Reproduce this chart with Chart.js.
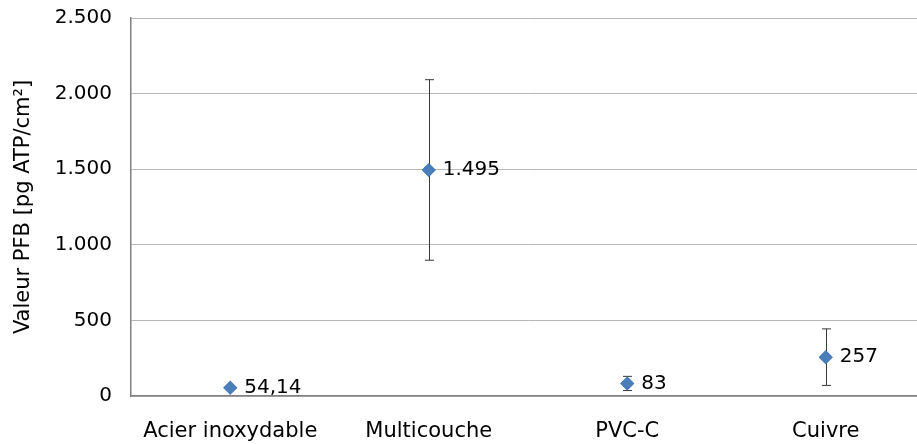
<!DOCTYPE html>
<html><head><meta charset="utf-8">
<script src="https://cdn.jsdelivr.net/npm/chart.js@4"></script>
<style>html,body{margin:0;padding:0;overflow:hidden;background:#fff}#wrap{width:932px;height:444px;position:relative}</style>
</head><body><div id="wrap"><canvas id="c"></canvas></div>
<script>
const categories = ['Acier inoxydable', 'Multicouche', 'PVC-C', 'Cuivre'];
const values = [54.14, 1495, 83, 257];
const errors = [0, 597, 47, 187];
const valueLabels = ['54,14', '1.495', '83', '257'];
const yTickValues = [0, 500, 1000, 1500, 2000, 2500];
const yTitle = 'Valeur PFB [pg ATP/cm²]';

const FONT = 'DejaVu Sans';
function fmt(v) { return String(v).replace(/\B(?=(\d{3})+(?!\d))/g, '.'); }

const errorBars = {
  id: 'errorBars',
  afterDatasetsDraw(chart) {
    const ctx = chart.ctx, meta = chart.getDatasetMeta(0), ys = chart.scales.y;
    ctx.save();
    ctx.strokeStyle = '#3a3a3a';
    ctx.lineWidth = 1;
    meta.data.forEach((pt, i) => {
      if (!errors[i]) return;
      const x = Math.round(pt.x) + 0.5;
      const yt = ys.getPixelForValue(values[i] + errors[i]);
      const yb = ys.getPixelForValue(values[i] - errors[i]);
      ctx.beginPath();
      ctx.moveTo(x, yt); ctx.lineTo(x, yb);
      ctx.moveTo(x - 4.5, yt); ctx.lineTo(x + 4.5, yt);
      ctx.moveTo(x - 4.5, yb); ctx.lineTo(x + 4.5, yb);
      ctx.stroke();
    });
    ctx.restore();
    meta.data.forEach(pt => pt.draw(ctx, chart.chartArea));
    ctx.save();
    ctx.fillStyle = '#000';
    ctx.font = '20px "' + FONT + '"';
    ctx.textBaseline = 'middle';
    ctx.textAlign = 'left';
    meta.data.forEach((pt, i) => ctx.fillText(valueLabels[i], pt.x + 14, pt.y));
    ctx.restore();
  }
};

new Chart(document.getElementById('c'), {
  type: 'line',
  data: {
    labels: categories,
    datasets: [{
      data: values,
      showLine: false,
      pointStyle: 'rectRot',
      pointRadius: 7,
      pointHoverRadius: 7,
      backgroundColor: '#4a7ebb',
      borderColor: '#4a7ebb',
      pointBorderWidth: 0
    }]
  },
  options: {
    responsive: true,
    maintainAspectRatio: false,
    animation: false,
    events: [],
    layout: { padding: { top: 18, right: 3, left: 0, bottom: 0 } },
    plugins: { legend: { display: false }, tooltip: { enabled: false } },
    scales: {
      x: {
        type: 'category',
        offset: true,
        grid: { display: false, drawTicks: false },
        border: { display: true, color: '#808080', width: 1.5 },
        ticks: { color: '#000', font: { family: FONT, size: 21 }, padding: 23, maxRotation: 0, autoSkip: false },
        afterFit(s) { s.height = 48; s.paddingLeft = 0; s.paddingRight = 0; }
      },
      y: {
        min: 0, max: 2500,
        afterBuildTicks(s) { s.ticks = yTickValues.map(v => ({ value: v })); },
        grid: { color: '#b8b8b8', lineWidth: 1, drawTicks: false },
        border: { display: true, color: '#808080', width: 1.5 },
        ticks: { color: '#000', font: { family: FONT, size: 20 }, padding: 19, callback: v => fmt(v) },
        title: { display: true, text: yTitle, color: '#000', font: { family: FONT, size: 21 }, padding: { top: 11, bottom: 0 } },
        afterFit(s) { s.width = 131; s.paddingTop = 0; s.paddingBottom = 0; }
      }
    }
  },
  plugins: [errorBars]
});
</script></body></html>
